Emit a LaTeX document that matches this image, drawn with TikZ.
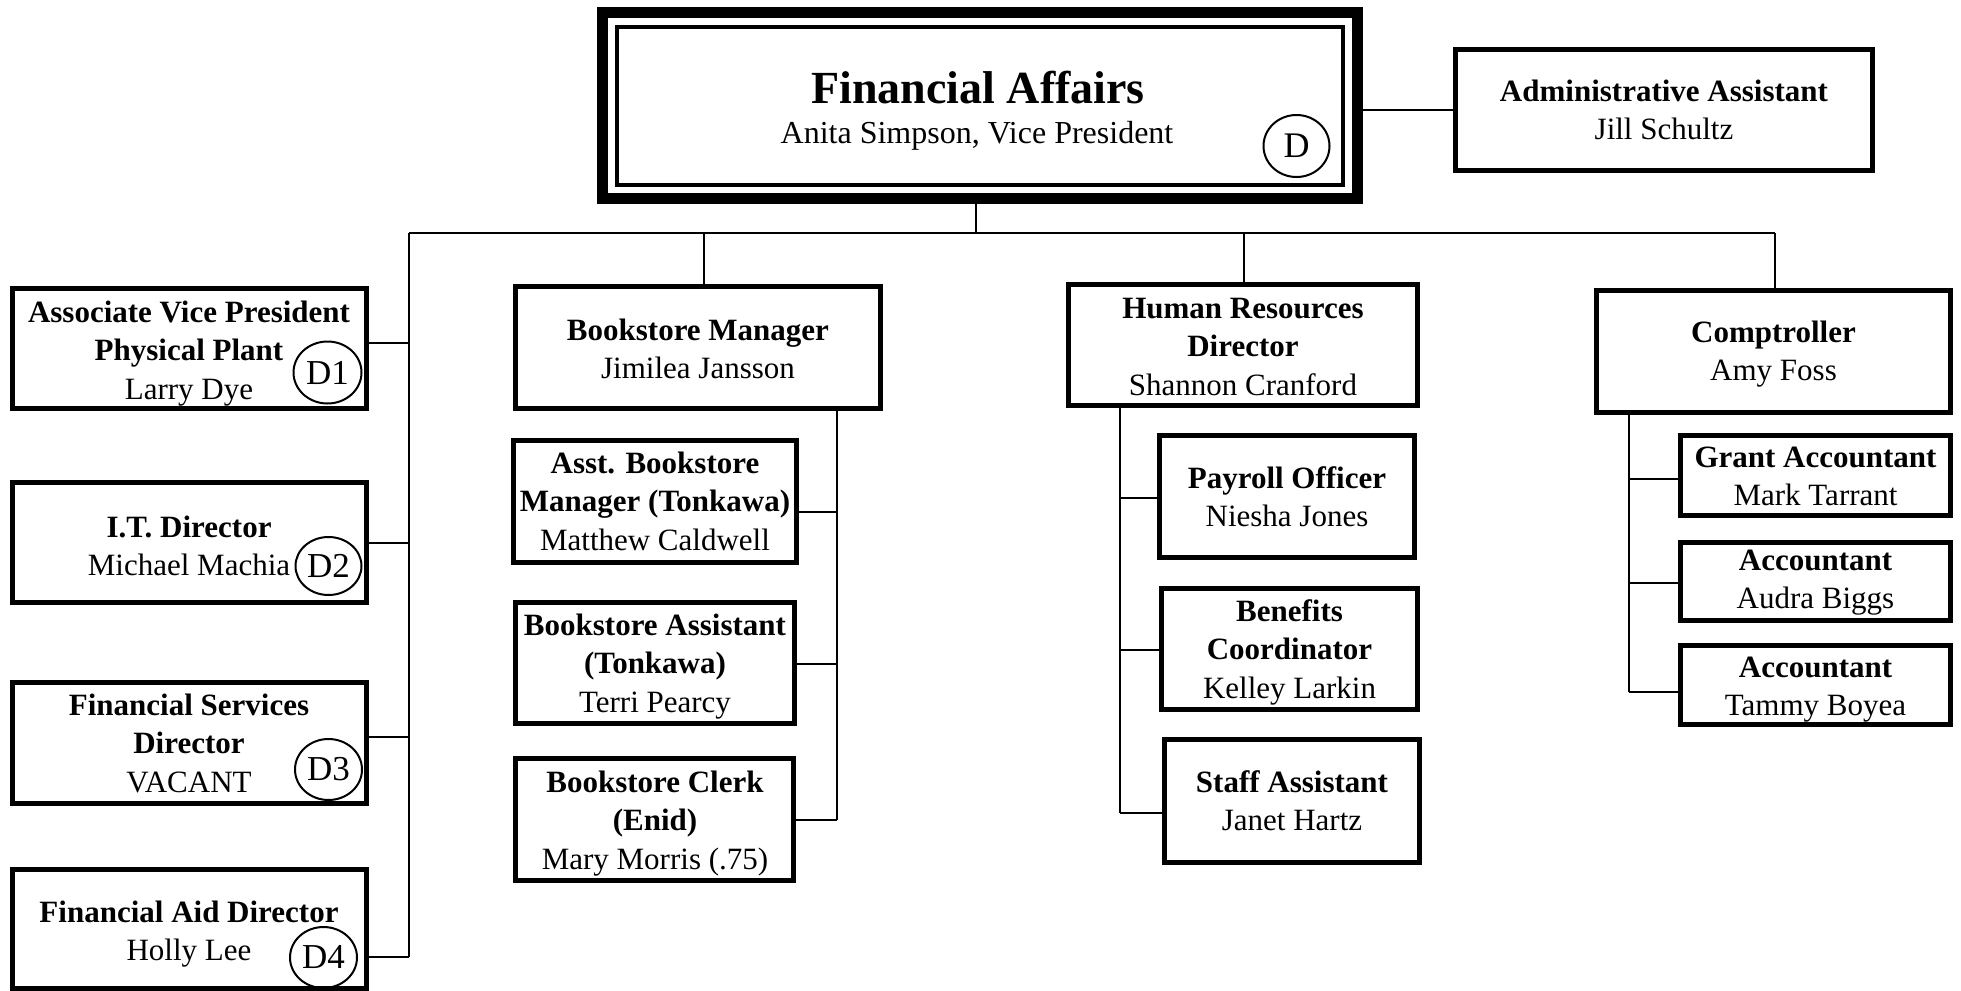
\documentclass[tikz,border=0pt]{standalone}
\usepackage{fontspec}
\setmainfont{Liberation Serif}
\usetikzlibrary{shapes.geometric}
\newcommand\orglines[1]{\begin{tabular}[t]{@{}c@{}}#1\end{tabular}}
\begin{document}
\begin{tikzpicture}[x=0.5pt,y=-0.5pt,
  box/.style={draw, line width=2.5pt, rectangle, inner sep=0pt},
  bsz/.style 2 args={minimum width=#1*0.5pt, minimum height=#2*0.5pt},
  conn/.style={line width=1.2pt},
  txt/.style={anchor=base, inner sep=0pt, font=\fontsize{15.5pt}{19.25pt}\selectfont},
  dmark/.style={draw, ellipse, line width=1pt, inner sep=0pt, font=\fontsize{17.5pt}{19.25pt}\selectfont},
]
\useasboundingbox (0,0) rectangle (1961,991);

% ---------- top ----------
\node[box, line width=5.25pt, bsz={755}{186}] (top) at (980,105.5) {};
\node[box, line width=2pt, bsz={726}{158}] (topin) at (980,106) {};
\node[anchor=base, inner sep=0pt, font=\fontsize{23pt}{27pt}\selectfont\bfseries] (toptitle) at (978,103) {Financial Affairs};
\node[anchor=base, inner sep=0pt, font=\fontsize{16pt}{19pt}\selectfont] (topname) at (977,143) {Anita Simpson, Vice President};
\node[dmark, font=\fontsize{18pt}{19pt}\selectfont, bsz={66}{62}] (dtop) at (1296.5,146) {D};

\node[box, bsz={417.5}{121}] (admin) at (1664,110) {};
\node[txt] (admintxt) at (1664,101) {\orglines{\textbf{Administrative Assistant}\\Jill Schultz}};
\draw[conn] (top.east |- admin.west) -- (admin.west);

% ---------- bus ----------
\coordinate (busL) at (409,233);
\coordinate (busR) at (1775,233);
\coordinate (stem) at (976,233);
\coordinate (bmStem) at (704,233);
\coordinate (hrStem) at (1244,233);
\draw[conn] (busL) -- (busR);
\draw[conn] (stem |- top.south) -- (stem);

% ---------- left column ----------
\node[box, bsz={354}{120.5}] (d1) at (189,348.25) {};
\node[txt] (d1t) at (189,322) {\orglines{\textbf{Associate Vice President}\\\textbf{Physical Plant}\\Larry Dye}};
\node[dmark, bsz={68}{62}] (d1c) at (327.5,372.5) {D1};

\node[box, bsz={354}{120.5}] (d2) at (189,542.25) {};
\node[txt] (d2t) at (189,537) {\orglines{\textbf{I.T. Director}\\Michael Machia}};
\node[dmark, bsz={66}{58}] (d2c) at (328.5,566) {D2};

\node[box, bsz={354}{121}] (d3) at (189,742.5) {};
\node[txt] (d3t) at (189,715) {\orglines{\textbf{Financial Services}\\\textbf{Director}\\VACANT}};
\node[dmark, bsz={67}{61}] (d3c) at (328.5,769.5) {D3};

\node[box, bsz={354}{119}] (d4) at (189,929) {};
\node[txt] (d4t) at (189,922) {\orglines{\textbf{Financial Aid Director}\\Holly Lee}};
\node[dmark, bsz={67}{61}] (d4c) at (323.5,957.5) {D4};

\coordinate (lb1) at (409,343);
\coordinate (lb2) at (409,543);
\coordinate (lb3) at (409,737);
\coordinate (lb4) at (409,957);
\draw[conn] (busL) -- (lb4);
\draw[conn] (d1.east |- lb1) -- (lb1);
\draw[conn] (d2.east |- lb2) -- (lb2);
\draw[conn] (d3.east |- lb3) -- (lb3);
\draw[conn] (d4.east |- lb4) -- (lb4);

% ---------- bookstore ----------
\node[box, bsz={365}{122}] (bm) at (698,347.5) {};
\node[txt] (bmt) at (698,340) {\orglines{\textbf{Bookstore Manager}\\Jimilea Jansson}};
\draw[conn] (bmStem) -- (bmStem |- bm.north);

\node[box, bsz={282.5}{122}] (asst) at (654.75,501.5) {};
\node[txt] (asstt) at (655,473) {\orglines{\textbf{Asst. Bookstore}\\\textbf{Manager (Tonkawa)}\\Matthew Caldwell}};
\node[box, bsz={278.5}{121}] (bsa) at (654.75,663) {};
\node[txt] (bsat) at (655,635) {\orglines{\textbf{Bookstore Assistant}\\\textbf{(Tonkawa)}\\Terri Pearcy}};
\node[box, bsz={278}{122}] (clerk) at (654.5,819.5) {};
\node[txt] (clerkt) at (655,792) {\orglines{\textbf{Bookstore Clerk}\\\textbf{(Enid)}\\Mary Morris (.75)}};

\coordinate (bb1) at (837,512);
\coordinate (bb2) at (837,664);
\coordinate (bb3) at (837,820);
\draw[conn] (bb3 |- bm.south) -- (bb3);
\draw[conn] (asst.east |- bb1) -- (bb1);
\draw[conn] (bsa.east |- bb2) -- (bb2);
\draw[conn] (clerk.east |- bb3) -- (bb3);

% ---------- human resources ----------
\node[box, bsz={349}{121}] (hr) at (1243,345) {};
\node[txt] (hrt) at (1243,318) {\orglines{\textbf{Human Resources}\\\textbf{Director}\\Shannon Cranford}};
\draw[conn] (hrStem) -- (hrStem |- hr.north);

\node[box, bsz={255}{122}] (pay) at (1287,496.5) {};
\node[txt] (payt) at (1287,488) {\orglines{\textbf{Payroll Officer}\\Niesha Jones}};
\node[box, bsz={256}{121}] (ben) at (1289.5,649) {};
\node[txt] (bent) at (1289.5,621) {\orglines{\textbf{Benefits}\\\textbf{Coordinator}\\Kelley Larkin}};
\node[box, bsz={255}{122.5}] (staff) at (1292,800.75) {};
\node[txt] (stafft) at (1292,792) {\orglines{\textbf{Staff Assistant}\\Janet Hartz}};

\coordinate (hb1) at (1120,498);
\coordinate (hb2) at (1120,650);
\coordinate (hb3) at (1120,813);
\draw[conn] (hb3 |- hr.south) -- (hb3);
\draw[conn] (hb1) -- (pay.west |- hb1);
\draw[conn] (hb2) -- (ben.west |- hb2);
\draw[conn] (hb3) -- (staff.west |- hb3);

% ---------- comptroller ----------
\node[box, bsz={354}{122}] (comp) at (1773.5,351.5) {};
\node[txt] (compt) at (1773.5,342) {\orglines{\textbf{Comptroller}\\Amy Foss}};
\draw[conn] (busR) -- (busR |- comp.north);

\node[box, bsz={270}{80}] (grant) at (1815.5,475.5) {};
\node[txt] (grantt) at (1815.5,467) {\orglines{\textbf{Grant Accountant}\\Mark Tarrant}};
\node[box, bsz={270}{78}] (acc1) at (1815.5,581.5) {};
\node[txt] (acc1t) at (1815.5,570) {\orglines{\textbf{Accountant}\\Audra Biggs}};
\node[box, bsz={270}{79}] (acc2) at (1815.5,685) {};
\node[txt] (acc2t) at (1815.5,677) {\orglines{\textbf{Accountant}\\Tammy Boyea}};

\coordinate (cb1) at (1629,479);
\coordinate (cb2) at (1629,583);
\coordinate (cb3) at (1629,692);
\draw[conn] (cb3 |- comp.south) -- (cb3);
\draw[conn] (cb1) -- (grant.west |- cb1);
\draw[conn] (cb2) -- (acc1.west |- cb2);
\draw[conn] (cb3) -- (acc2.west |- cb3);
\end{tikzpicture}
\end{document}
